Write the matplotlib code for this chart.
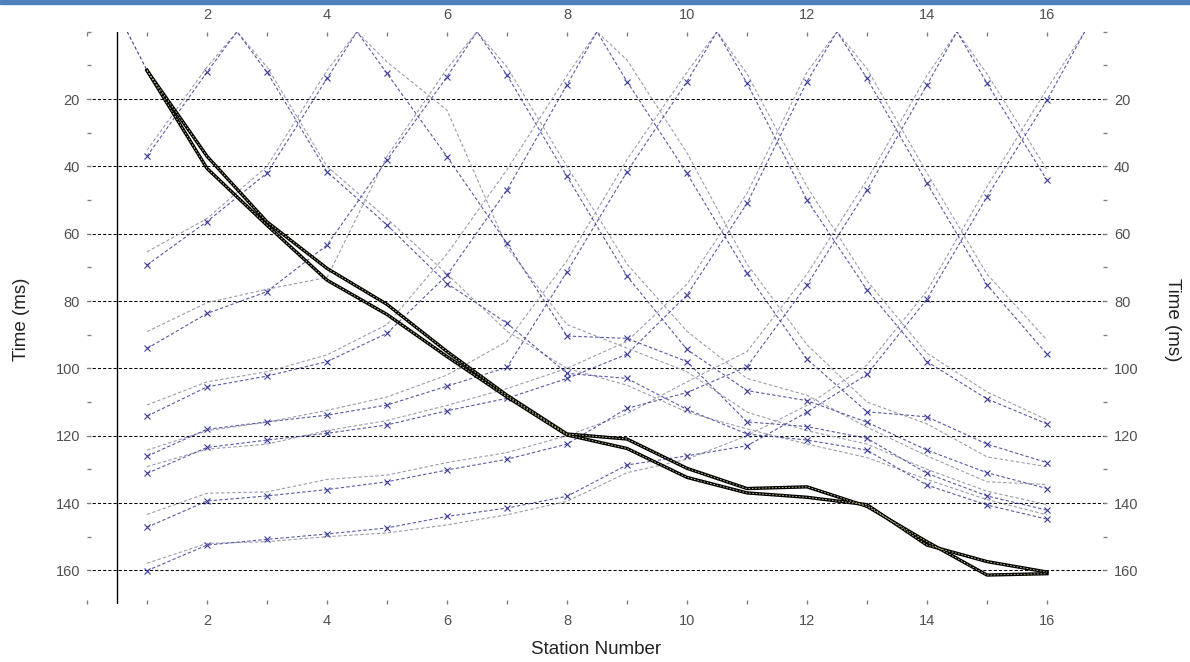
import matplotlib.pyplot as plt
from matplotlib.patches import Rectangle

plt.rcParams['font.family'] = ['Liberation Sans', 'DejaVu Sans']

# station numbers of the geophones and the shot positions
stations = list(range(1, 17))
shot_positions = [0.67, 2.5, 4.5, 6.5, 8.5, 10.5, 12.5, 14.5, 16.63]

# picked (observed) first arrival times, ms, one list per shot
obs_shot_0 = [11.5, 37, 56.5, 70.3, 81, 95, 108, 119.5, 121, 129.7, 135.7, 135.2, 141, 151.5, 161.4, 161]
obs_shot_2 = [37, 12, 12, 41.6, 57.4, 74.8, 86.6, 101.5, 103, 112.2, 119.5, 121.3, 124.3, 134.7, 140.6, 144.8]
obs_shot_4 = [69.3, 56.4, 42, 13.9, 12.4, 37.1, 62.9, 90.4, 91.1, 98, 115.9, 117.3, 120.8, 131.2, 137.9, 142.1]
obs_shot_6 = [94.1, 83.7, 77.2, 63.4, 38.1, 13.4, 12.9, 43, 72.6, 94.4, 106.6, 109.6, 116, 124.3, 131, 135.7]
obs_shot_8 = [114.2, 105.5, 102.3, 98, 89.6, 72.3, 47, 15.8, 14.8, 42.1, 71.8, 97.3, 112.9, 114.4, 122.5, 128]
obs_shot_10 = [126.1, 118.1, 115.9, 113.9, 110.9, 105.3, 99.7, 71.3, 41.6, 14.8, 15.3, 50, 76.7, 98, 109.1, 116.5]
obs_shot_12 = [131.2, 123.5, 121.3, 119.3, 116.8, 112.6, 108.9, 103, 95.8, 78.2, 51, 14.8, 13.9, 45, 75.2, 95.8]
obs_shot_14 = [147.2, 139.4, 137.9, 136, 133.7, 130.2, 127, 122.5, 111.9, 107.2, 99.5, 75.2, 47, 15.8, 15.3, 44.1]
obs_shot_16 = [160.1, 152.5, 150.8, 149.2, 147.4, 144, 141.5, 138, 128.7, 126, 123, 113, 101.8, 79.4, 49, 20.3]

# calculated travel times, ms
calc_shot_0 = [11.5, 40.6, 57.5, 73.8, 84, 96.5, 108.5, 119.8, 123.8, 132.4, 137, 138.3, 140.5, 152.5, 157.4, 160.5]
calc_shot_2 = [35.2, 10.5, 10.5, 40, 55.5, 72, 89, 100, 105, 113, 118, 122.5, 126.5, 133, 139, 143.5]
calc_shot_4 = [65.4, 55.5, 40, 11.5, 9, 23.3, 64, 87, 94, 101, 113, 118.5, 122.5, 130, 136.5, 140.5]
calc_shot_6 = [89.1, 80.5, 76.5, 73, 37, 11, 10.5, 40, 69, 89, 103, 108, 117.5, 126, 133.7, 134.5]
calc_shot_8 = [110.9, 104, 101, 96, 87, 66, 41, 13, 8.4, 36, 69, 93, 110, 116.5, 126.3, 129.2]
calc_shot_10 = [124.3, 118.5, 116, 112.5, 108.5, 102, 92, 68, 38, 12, 12.5, 46, 74, 95.5, 107, 115.3]
calc_shot_12 = [129.2, 124, 122.5, 118.5, 115.5, 111, 106, 100, 92, 75, 48, 12, 11, 42, 72, 91.6]
calc_shot_14 = [143.4, 137.1, 136.7, 133, 131.7, 128, 125, 120, 113.5, 104, 95, 72, 44, 13, 12.5, 41]
calc_shot_16 = [157.9, 152, 151.5, 150, 148.9, 146.5, 143.5, 139.5, 131, 127, 120, 111, 99, 77, 46, 17]

observed = [obs_shot_2, obs_shot_4, obs_shot_6, obs_shot_8, obs_shot_10,
            obs_shot_12, obs_shot_14, obs_shot_16]
calculated = [calc_shot_2, calc_shot_4, calc_shot_6, calc_shot_8, calc_shot_10,
              calc_shot_12, calc_shot_14, calc_shot_16]

blue = '#3c3c98'
gray = '#9c9cae'
text_color = '#505050'
dash = (0, (3, 2))


def with_shot(pos, times):
    pts = sorted(zip(stations + [pos], list(times) + [0.0]))
    return [p[0] for p in pts], [p[1] for p in pts]


fig = plt.figure(figsize=(11.9, 6.62), dpi=100)
ax = fig.add_axes([87 / 1190, 1 - 604 / 662, 1020 / 1190, 572.3 / 662])

for y in range(20, 161, 20):
    ax.axhline(y, color='black', lw=0.75, ls=dash, zorder=1)
ax.axvline(0.5, color='black', lw=1, zorder=2)

for pos, calc in zip(shot_positions[1:], calculated):
    xs, ys = with_shot(pos, calc)
    ax.plot(xs, ys, color=gray, lw=0.8, ls=dash, zorder=3)

for pos, obs in zip(shot_positions[1:], observed):
    xs, ys = with_shot(pos, obs)
    ax.plot(xs, ys, color=blue, lw=0.8, ls=dash, alpha=0.85, zorder=4)
    ax.plot(stations, obs, ls='none', marker='x', ms=4, mew=0.8, color=blue, zorder=5)

# selected shot drawn in black, with the short leg from the source
pos0 = shot_positions[0]
ax.plot([pos0, stations[0]], [0, obs_shot_0[0]], color=blue, lw=0.8, ls=dash, zorder=4)
for times in (obs_shot_0, calc_shot_0):
    ax.plot(stations, times, color='black', lw=2.4, zorder=6, solid_joinstyle='round')
    ax.plot(stations, times, color='#d6d08a', lw=0.6, ls=(0, (2, 2)), zorder=7)

ax.set_xlim(0, 17)
ax.set_ylim(170, 0)

ax.set_xticks(range(0, 17))
ax.set_xticklabels([str(s) if s % 2 == 0 and s > 0 else '' for s in range(0, 17)])
ax.set_yticks(range(0, 161, 10))
ax.set_yticklabels([str(t) if t % 20 == 0 and t > 0 else '' for t in range(0, 161, 10)])

ax.tick_params(axis='x', top=True, labeltop=True, bottom=True, labelbottom=True,
               direction='in', length=3, width=1, color='#808080',
               labelcolor=text_color, labelsize=10.5, pad=7)
ax.tick_params(axis='y', left=True, labelleft=True, right=True, labelright=True,
               direction='in', length=3, width=1, color='#808080',
               labelcolor=text_color, labelsize=10.5, pad=5)

for spine in ax.spines.values():
    spine.set_visible(False)

fig.text(22 / 1190, 1 - 319 / 662, 'Time (ms)', rotation=90, ha='center', va='center',
         fontsize=13.5, color='#222222')
fig.text(1172 / 1190, 1 - 320 / 662, 'Time (ms)', rotation=270, ha='center', va='center',
         fontsize=13.5, color='#222222')
fig.text(596 / 1190, 1 - 650 / 662, 'Station Number', ha='center', va='center',
         fontsize=13.5, color='#222222')

fig.patches.append(Rectangle((0, 1 - 3.5 / 662), 1, 3.5 / 662, transform=fig.transFigure,
                             color='#4f81bd', zorder=10))

fig.savefig('out.png', dpi=100)
